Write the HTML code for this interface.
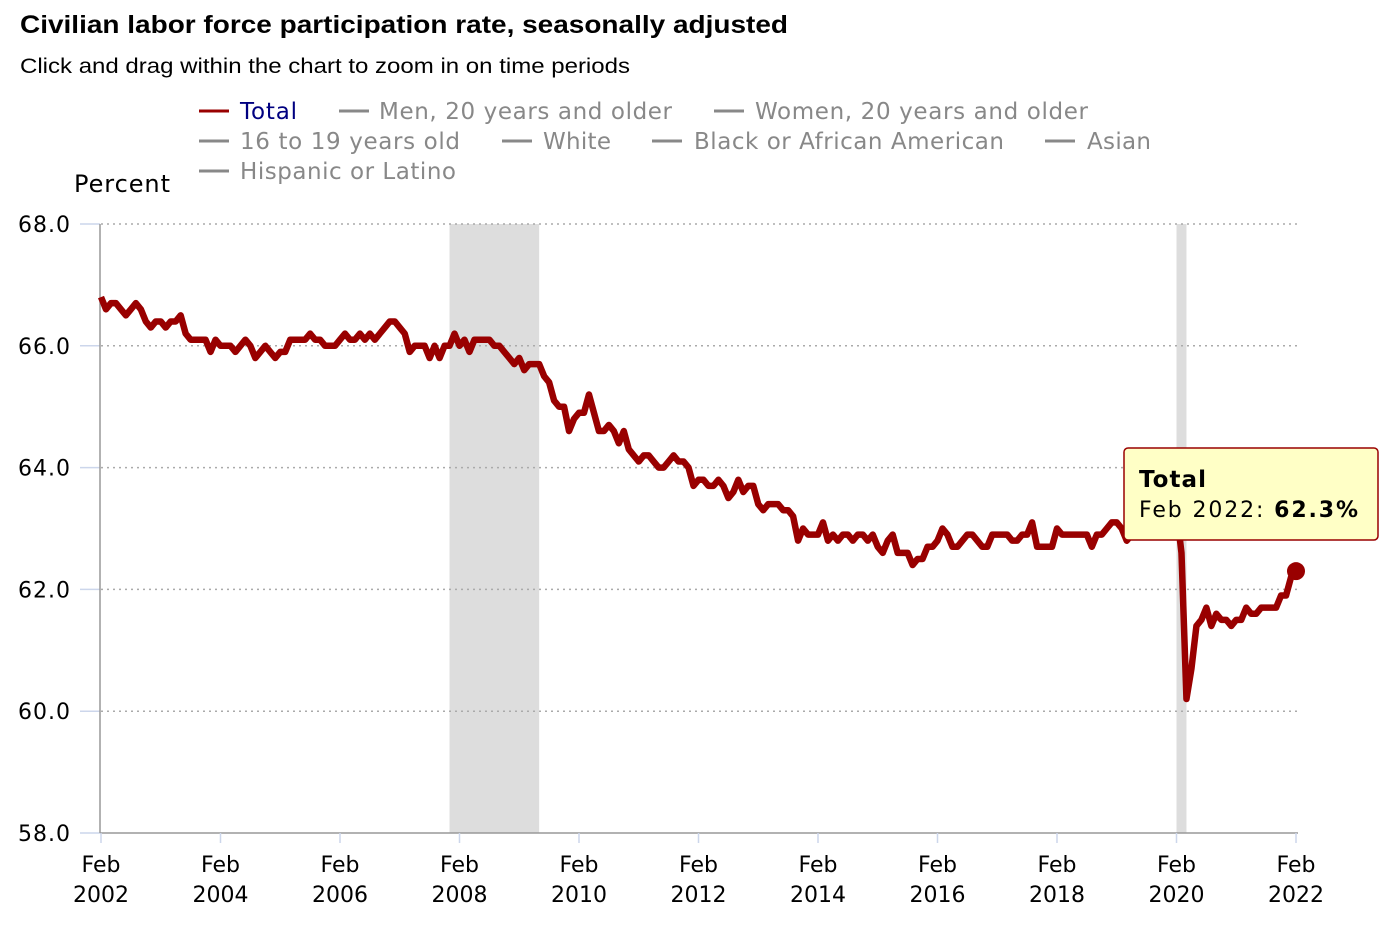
<!DOCTYPE html>
<html><head><meta charset="utf-8">
<style>
body{margin:0;background:#fff;font-family:"Liberation Sans",sans-serif;}
svg text{font-family:"DejaVu Sans","Liberation Sans",sans-serif;}
</style></head>
<body>
<svg id="chart" width="1388" height="926">
<text x="20" y="33" font-weight="bold" font-size="25" fill="#000" textLength="768" lengthAdjust="spacingAndGlyphs" style="font-family:'Liberation Sans',sans-serif">Civilian labor force participation rate, seasonally adjusted</text>
<text x="20" y="73" font-size="21" fill="#000" textLength="610" lengthAdjust="spacingAndGlyphs" style="font-family:'Liberation Sans',sans-serif">Click and drag within the chart to zoom in on time periods</text>
<g id="legend" font-size="23" fill="#888">
<g><line x1="199" y1="111" x2="229" y2="111" stroke="#990000" stroke-width="3"/><text x="240" y="119" fill="#000080" textLength="57">Total</text></g>
<g><line x1="339" y1="111" x2="369" y2="111" stroke="#888" stroke-width="3"/><text x="379" y="119" textLength="293">Men, 20 years and older</text></g>
<g><line x1="714" y1="111" x2="744" y2="111" stroke="#888" stroke-width="3"/><text x="755" y="119" textLength="333">Women, 20 years and older</text></g>
<g><line x1="199" y1="141" x2="229" y2="141" stroke="#888" stroke-width="3"/><text x="240" y="149" textLength="220">16 to 19 years old</text></g>
<g><line x1="502" y1="141" x2="532" y2="141" stroke="#888" stroke-width="3"/><text x="543" y="149" textLength="68">White</text></g>
<g><line x1="652" y1="141" x2="682" y2="141" stroke="#888" stroke-width="3"/><text x="694" y="149" textLength="310">Black or African American</text></g>
<g><line x1="1045" y1="141" x2="1075" y2="141" stroke="#888" stroke-width="3"/><text x="1087" y="149" textLength="64">Asian</text></g>
<g><line x1="199" y1="171" x2="229" y2="171" stroke="#888" stroke-width="3"/><text x="240" y="179" textLength="216">Hispanic or Latino</text></g>
</g>
<text x="74" y="192" font-size="24" fill="#000" textLength="96">Percent</text>
<g id="plot"></g>
</svg>
<script>
const startYear=2002, startMonth=1; // Feb = index 1
const values=[
66.8,66.6,66.7,66.7,66.6,66.5,66.6,66.7,66.6,66.4,66.3,
66.4,66.4,66.3,66.4,66.4,66.5,66.2,66.1,66.1,66.1,66.1,65.9,
66.1,66.0,66.0,66.0,65.9,66.0,66.1,66.0,65.8,65.9,66.0,65.9,
65.8,65.9,65.9,66.1,66.1,66.1,66.1,66.2,66.1,66.1,66.0,66.0,
66.0,66.1,66.2,66.1,66.1,66.2,66.1,66.2,66.1,66.2,66.3,66.4,
66.4,66.3,66.2,65.9,66.0,66.0,66.0,65.8,66.0,65.8,66.0,66.0,
66.2,66.0,66.1,65.9,66.1,66.1,66.1,66.1,66.0,66.0,65.9,65.8,
65.7,65.8,65.6,65.7,65.7,65.7,65.5,65.4,65.1,65.0,65.0,64.6,
64.8,64.9,64.9,65.2,64.9,64.6,64.6,64.7,64.6,64.4,64.6,64.3,
64.2,64.1,64.2,64.2,64.1,64.0,64.0,64.1,64.2,64.1,64.1,64.0,
63.7,63.8,63.8,63.7,63.7,63.8,63.7,63.5,63.6,63.8,63.6,63.7,
63.7,63.4,63.3,63.4,63.4,63.4,63.3,63.3,63.2,62.8,63.0,62.9,
62.9,62.9,63.1,62.8,62.9,62.8,62.9,62.9,62.8,62.9,62.9,62.8,
62.9,62.7,62.6,62.8,62.9,62.6,62.6,62.6,62.4,62.5,62.5,62.7,
62.7,62.8,63.0,62.9,62.7,62.7,62.8,62.9,62.9,62.8,62.7,62.7,
62.9,62.9,62.9,62.9,62.8,62.8,62.9,62.9,63.1,62.7,62.7,62.7,
62.7,63.0,62.9,62.9,62.9,62.9,62.9,62.9,62.7,62.9,62.9,63.0,
63.1,63.1,63.0,62.8,62.9,62.9,63.0,63.2,63.2,63.3,63.2,63.3,
63.3,63.3,62.6,60.2,60.7,61.4,61.5,61.7,61.4,61.6,61.5,61.5,
61.4,61.5,61.5,61.7,61.6,61.6,61.7,61.7,61.7,61.7,61.9,61.9,
62.2,62.3];
const yTicks=[58,60,62,64,66,68];
const xTickYears=[2002,2004,2006,2008,2010,2012,2014,2016,2018,2020,2022];
const recessions=[[2007,11,2009,5],[2020,1,2020,3]];
const X0=101,X1=1296,Y0=833,Y1=224;
function mi(y,m){return (y-startYear)*12+(m-startMonth);}
function xs(i){return X0+(X1-X0)*i/240;}
function ys(v){return Y0-(v-58)/(68-58)*(Y0-Y1);}
const NS='http://www.w3.org/2000/svg';
const g=document.getElementById('plot');
function mk(t,a,p){const e=document.createElementNS(NS,t);for(const k in a)e.setAttribute(k,a[k]);(p||g).appendChild(e);return e;}
recessions.forEach(r=>{
const e=mk('rect',{x:xs(mi(r[0],r[1])),y:Y1,width:xs(mi(r[2],r[3]))-xs(mi(r[0],r[1])),height:Y0-Y1,fill:'#dddddd'});


});
yTicks.forEach(v=>{
if(v>58){const l=mk('line',{x1:X0,x2:1298,y1:ys(v),y2:ys(v),stroke:'#aaa','stroke-width':1.5,'stroke-dasharray':'2,4'});

}
mk('line',{x1:80,x2:100,y1:ys(v),y2:ys(v),stroke:'#ccd6eb','stroke-width':1.5});
const t=mk('text',{x:70,y:ys(v)+8,'text-anchor':'end','font-size':22,fill:'#000',textLength:52});t.textContent=v.toFixed(1);


});
const ax=mk('line',{x1:100,x2:100,y1:Y1,y2:Y0,stroke:'#999','stroke-width':1.5});


const bx=mk('line',{x1:100,x2:1298,y1:Y0,y2:Y0,stroke:'#999','stroke-width':1.5});


xTickYears.forEach(yr=>{
const x=xs(mi(yr,1));
mk('line',{x1:x,x2:x,y1:Y0,y2:Y0+10,stroke:'#ccd6eb','stroke-width':1.5});
const t=mk('text',{x:x,y:872,'text-anchor':'middle','font-size':22,fill:'#000'});t.textContent='Feb';


const t2=mk('text',{x:x,y:902,'text-anchor':'middle','font-size':22,fill:'#000'});t2.textContent=yr;


});
const pts=values.map((v,i)=>xs(i).toFixed(2)+','+ys(v).toFixed(2)).join(' ');
const line=mk('polyline',{points:pts,fill:'none',stroke:'#990000','stroke-width':6.5,'stroke-linejoin':'round'});


const last=values.length-1;
const dot=mk('circle',{cx:xs(last),cy:ys(values[last]),r:9,fill:'#990000'});


const tip=mk('g',{});


mk('rect',{x:1124,y:448,width:254,height:92,rx:4,fill:'#ffffc6',stroke:'#990000','stroke-width':1.5},tip);
const tt=mk('text',{x:1139,y:487,'font-size':23,'font-weight':'bold',fill:'#000',textLength:67},tip);tt.textContent='Total';
const tv=mk('text',{x:1139,y:517,'font-size':22,fill:'#000',textLength:219},tip);
tv.innerHTML='Feb 2022: <tspan font-weight="bold">'+values[last].toFixed(1)+'%</tspan>';
</script>
</body></html>
